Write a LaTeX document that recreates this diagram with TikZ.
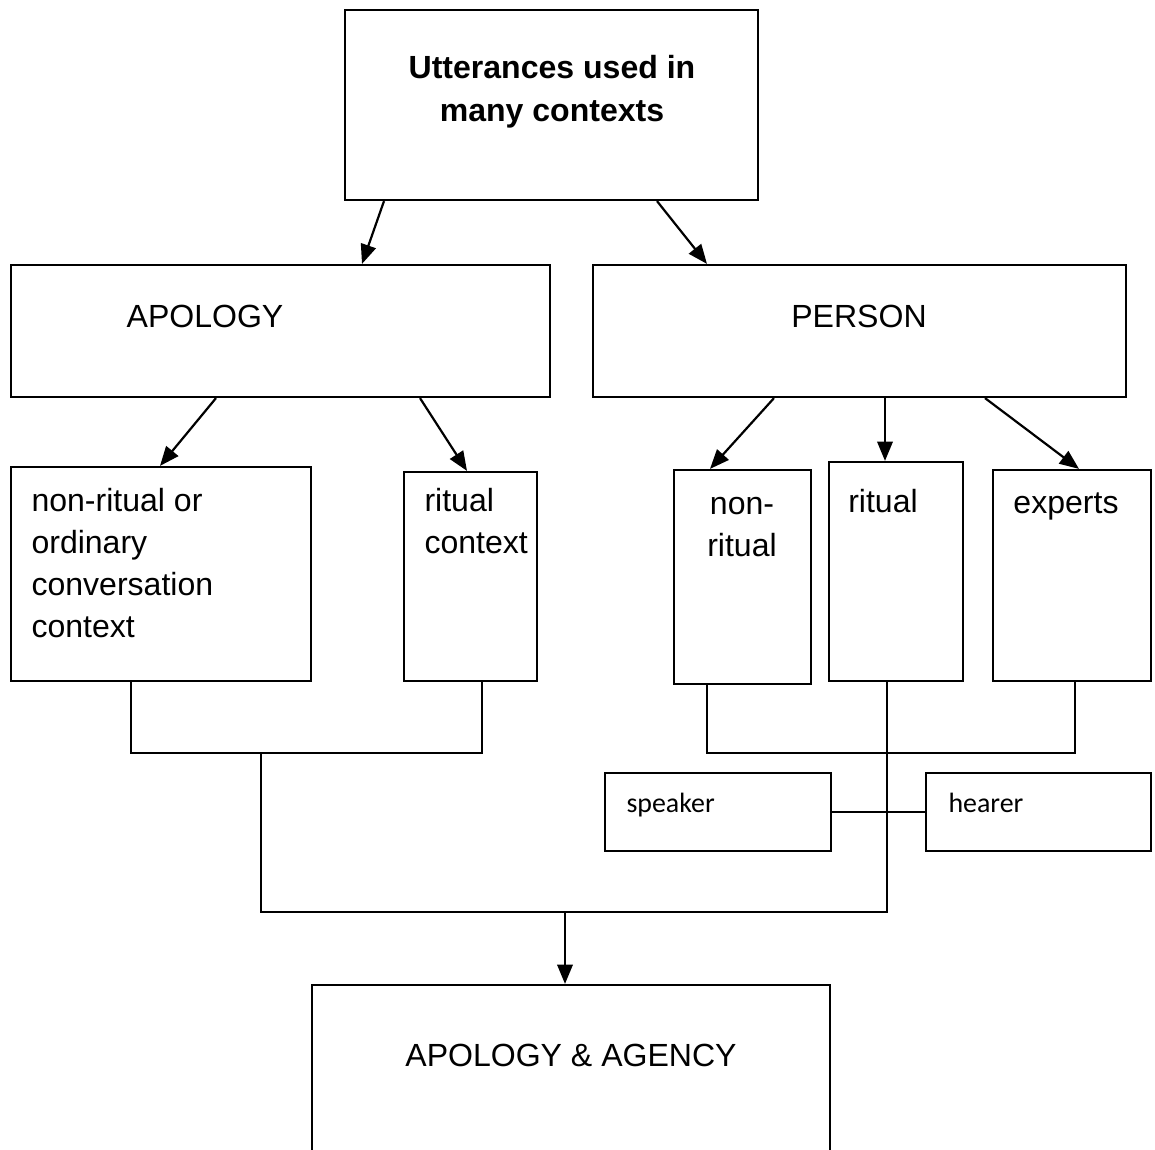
\documentclass[tikz,border=0pt]{standalone}
\usepackage{fontspec}
\setmainfont{Liberation Sans}
\newfontfamily\smallfont{Carlito}
\usepackage{tikz}
\usetikzlibrary{arrows.meta,calc}
\def\pxu{0.387pt}

\begin{document}
\begin{tikzpicture}[x=0.387pt,y=-0.387pt,
  box/.style={draw,line width=0.85pt,inner sep=0pt},
  txt/.style={inner sep=0pt,font=\fontsize{12.4}{16.3}\selectfont},
  headtxt/.style={inner sep=0pt,font=\bfseries\fontsize{12.4}{16.6}\selectfont},
  smalltxt/.style={inner sep=0pt,font=\smallfont\fontsize{10.8}{12}\selectfont},
  link/.style={line width=0.85pt},
  arr/.style={line width=0.85pt,-{Triangle[length=7.5pt,width=6pt]}}]
\useasboundingbox (0,0) rectangle (1155,1150);
\clip (0,0) rectangle (1155,1150);

% boxes
\node[box,minimum width=413*\pxu,minimum height=190*\pxu] (utter) at (551.5,105) {};
\node[box,minimum width=539*\pxu,minimum height=132*\pxu] (apology) at (280.5,331) {};
\node[box,minimum width=533*\pxu,minimum height=132*\pxu] (person) at (859.5,331) {};
\node[box,minimum width=300*\pxu,minimum height=214*\pxu] (ordinary) at (161,574) {};
\node[box,minimum width=133*\pxu,minimum height=209*\pxu] (ritctx) at (470.5,576.5) {};
\node[box,minimum width=137*\pxu,minimum height=214*\pxu] (nonrit) at (742.5,577) {};
\node[box,minimum width=134*\pxu,minimum height=219*\pxu] (ritual) at (896,571.5) {};
\node[box,minimum width=158*\pxu,minimum height=211*\pxu] (experts) at (1072,575.5) {};
\node[box,minimum width=226*\pxu,minimum height=78*\pxu] (speaker) at (718,812) {};
\node[box,minimum width=225*\pxu,minimum height=78*\pxu] (hearer) at (1038.5,812) {};
\node[box,minimum width=518*\pxu,minimum height=214*\pxu] (agency) at (571,1092) {};

% texts
\node[headtxt,align=center] (uttertxt) at (552,92) {Utterances used in\\many contexts};
\node[txt,anchor=base] (apologytxt) at (205,327) {APOLOGY};
\node[txt,anchor=base] (persontxt) at (859,327) {PERSON};
\node[txt,align=left,anchor=west] (ordinarytxt) at (31,563) {non-ritual or\\ordinary\\conversation\\context};
\node[txt,align=left,anchor=west] (ritctxtxt) at (424,521) {ritual\\context};
\node[txt,align=center] (nonrittxt) at (742,527) {non-\\ritual};
\node[txt,anchor=base] (ritualtxt) at (883,512) {ritual};
\node[txt,anchor=base] (expertstxt) at (1066,513) {experts};
\node[smalltxt,anchor=base west] (speakertxt) at (626,812) {speaker};
\node[smalltxt,anchor=base west] (hearertxt) at (948,812) {hearer};
\node[txt,anchor=base] (agencytxt) at (571,1066) {APOLOGY \& AGENCY};

% arrows from the top
\draw[arr] ($(utter.south)+(-167.5,0)$) -- ($(apology.north)+(81.5,0)$);
\draw[arr] ($(utter.south)+(105.5,0)$) -- ($(person.north)+(-152.5,0)$);
\draw[arr] ($(apology.south)+(-64.5,0)$) -- ($(ordinary.north)+(-1,0)$);
\draw[arr] ($(apology.south)+(139.5,0)$) -- ($(ritctx.north)+(-3.5,0)$);
\draw[arr] ($(person.south)+(-85.5,0)$) -- ($(nonrit.north)+(-32.5,0)$);
\draw[arr] ($(person.south)+(25.5,0)$) -- ($(ritual.north)+(-11,0)$);
\draw[arr] ($(person.south)+(125.5,0)$) -- ($(experts.north)+(7,0)$);

% joining lines
\coordinate (ajoin) at (261,752);
\coordinate (rdrop) at (887,912);
\coordinate (merge) at (565,912);
\draw[link] ($(ordinary.south)+(-30,0)$) -- ++(0,71) -| ($(ritctx.south)+(11.5,0)$);
\draw[link] ($(nonrit.south)+(-35.5,0)$) -- ++(0,68) -| ($(experts.south)+(3,0)$);
\draw[link] (ajoin) |- (rdrop) -- (rdrop |- ritual.south);
\draw[link] (speaker.east) -- (hearer.west);
\draw[arr] (merge) -- (merge |- agency.north);
\end{tikzpicture}
\end{document}
